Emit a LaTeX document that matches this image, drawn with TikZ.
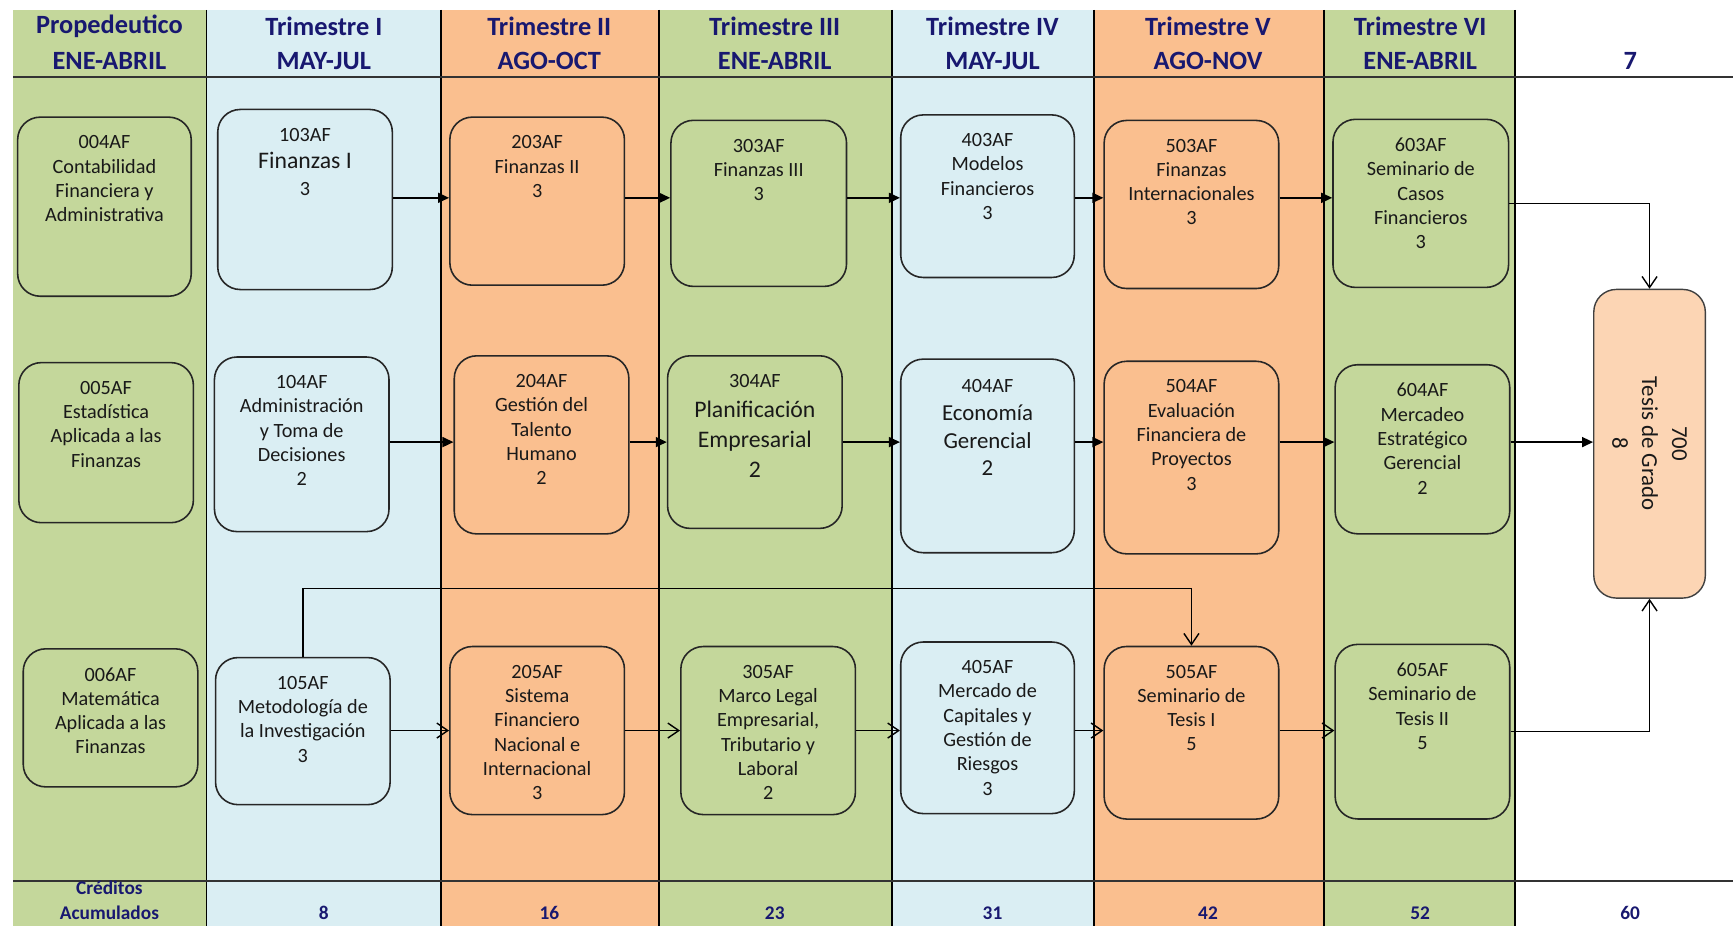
\documentclass[tikz,border=0pt]{standalone}
\usepackage{fontspec}
\setmainfont{Carlito}
\usetikzlibrary{arrows.meta}
\definecolor{verdeC}{RGB}{196,215,155}
\definecolor{azulC}{RGB}{218,238,243}
\definecolor{naranjaC}{RGB}{250,191,143}
\definecolor{durazno}{RGB}{252,213,180}
\definecolor{azulosc}{RGB}{24,24,112}
\newcommand{\codigo}[1]{{\fontsize{11.5}{13.8}\selectfont #1}}
\begin{document}
\begin{tikzpicture}[x=0.0221cm, y=-0.0221cm,
    curso/.style={draw=black!85, line width=0.9pt, rounded corners=0.45cm, minimum width=3.49cm, inner sep=0pt},
    txt/.style={anchor=north, align=center, inner sep=0pt, text=black!90, font=\fontsize{11.5}{13.8}\selectfont},
    grande/.style={font=\fontsize{13.5}{17}\selectfont},
    encab/.style={text=azulosc, font=\bfseries\fontsize{15}{19}\selectfont},
    cred/.style={text=azulosc, font=\bfseries\fontsize{11}{14}\selectfont},
    lleno/.style={-{Triangle[length=0.22cm,width=0.2cm]}, line width=0.9pt},
    abierto/.style={-{Straight Barb[length=0.22cm,width=0.3cm]}, line width=0.8pt}]
    \useasboundingbox (0,0) rectangle (1568,838);
    \fill[verdeC] (12,9) rectangle (187,838);
    \fill[azulC] (187,9) rectangle (399,838);
    \fill[naranjaC] (399,9) rectangle (596,838);
    \fill[verdeC] (596,9) rectangle (807,838);
    \fill[azulC] (807,9) rectangle (990,838);
    \fill[naranjaC] (990,9) rectangle (1198,838);
    \fill[verdeC] (1198,9) rectangle (1371,838);
    \foreach \x in {187,399,596,807,990,1198,1371}
        \draw[line width=0.9pt] (\x,9) -- (\x,838);
    \draw[line width=1.2pt, black!80] (12,70) -- (1568,70);
    \draw[line width=1.2pt, black!80] (12,797) -- (1568,797);
    \foreach \x/\a/\b [count=\i] in {99/Propedeutico/ENE-ABRIL, 293/Trimestre I/MAY-JUL, 497/Trimestre II/AGO-OCT, 701/Trimestre III/ENE-ABRIL, 898/Trimestre IV/MAY-JUL, 1093/Trimestre V/AGO-NOV, 1285/Trimestre VI/ENE-ABRIL} {
        \node[encab] (ta\i) at (\x,24) {\a};
        \node[encab] (tb\i) at (\x,55) {\b};
    }
    \node[encab] (tb8) at (1475,55) {7};
    \node[cred] (cr1) at (99,803) {Créditos};
    \node[cred] (cr2) at (99,826) {Acumulados};
    \foreach \x/\n [count=\i] in {293/8, 497/16, 701/23, 898/31, 1093/42, 1285/52, 1475/60}
        \node[cred] (ac\i) at (\x,826) {\n};

    \node[curso, fill=verdeC, minimum width=3.47cm, minimum height=3.58cm] (c004) at (94.5,187) {};
    \node[curso, fill=verdeC, minimum height=3.2cm] (c005) at (96,400.5) {};
    \node[curso, fill=verdeC, minimum height=2.76cm] (c006) at (100,649.5) {};
    \node[curso, fill=azulC, minimum height=3.6cm] (c103) at (276,180.5) {};
    \node[curso, fill=azulC, minimum height=3.49cm] (c104) at (273,402) {};
    \node[curso, fill=azulC, minimum height=2.94cm] (c105) at (274,661.5) {};
    \node[curso, fill=naranjaC, minimum height=3.36cm] (c203) at (486,182) {};
    \node[curso, fill=naranjaC, minimum height=3.56cm] (c204) at (490,402.5) {};
    \node[curso, fill=naranjaC, minimum height=3.36cm] (c205) at (486,661) {};
    \node[curso, fill=verdeC, minimum width=3.51cm, minimum height=3.32cm] (c303) at (686.5,184) {};
    \node[curso, fill=verdeC, minimum height=3.45cm] (c304) at (683,400) {};
    \node[curso, fill=verdeC, minimum height=3.36cm] (c305) at (695,661) {};
    \node[curso, fill=azulC, minimum width=3.47cm, minimum height=3.25cm] (c403) at (893.5,177.5) {};
    \node[curso, fill=azulC, minimum width=3.47cm, minimum height=3.87cm] (c404) at (893.5,412.5) {};
    \node[curso, fill=azulC, minimum width=3.47cm, minimum height=3.43cm] (c405) at (893.5,658.5) {};
    \node[curso, fill=naranjaC, minimum height=3.36cm] (c503) at (1078,185) {};
    \node[curso, fill=naranjaC, minimum height=3.85cm] (c504) at (1078,414) {};
    \node[curso, fill=naranjaC, minimum height=3.45cm] (c505) at (1078,663) {};
    \node[curso, fill=verdeC, minimum width=3.51cm, minimum height=3.36cm] (c603) at (1285.5,184) {};
    \node[curso, fill=verdeC, minimum height=3.38cm] (c604) at (1287,406.5) {};
    \node[curso, fill=verdeC, minimum height=3.49cm] (c605) at (1287,662) {};
    \node[curso, fill=durazno, draw=black!75, line width=0.8pt, minimum width=2.23cm, minimum height=6.17cm] (c700) at (1492.5,401.5) {};

    \node[txt] (t004) at ([yshift=-0.38cm]c004.north) {004AF\\Contabilidad\\Financiera y\\Administrativa};
    \node[txt] (t005) at ([yshift=-0.38cm]c005.north) {005AF\\Estadística\\Aplicada a las\\Finanzas};
    \node[txt] (t006) at ([yshift=-0.38cm]c006.north) {006AF\\Matemática\\Aplicada a las\\Finanzas};
    \node[txt, font=\fontsize{13.5}{15.5}\selectfont] (t103) at ([yshift=-0.38cm]c103.north) {\codigo{103AF}\\Finanzas I\\\codigo{3}};
    \node[txt] (t104) at ([yshift=-0.38cm]c104.north) {104AF\\Administración\\y Toma de\\Decisiones\\2};
    \node[txt] (t105) at ([yshift=-0.38cm]c105.north) {105AF\\Metodología de\\la Investigación\\3};
    \node[txt] (t203) at ([yshift=-0.38cm]c203.north) {203AF\\Finanzas II\\3};
    \node[txt] (t204) at ([yshift=-0.38cm]c204.north) {204AF\\Gestión del\\Talento\\Humano\\2};
    \node[txt] (t205) at ([yshift=-0.38cm]c205.north) {205AF\\Sistema\\Financiero\\Nacional e\\Internacional\\3};
    \node[txt] (t303) at ([yshift=-0.38cm]c303.north) {303AF\\Finanzas III\\3};
    \node[txt, grande] (t304) at ([yshift=-0.38cm]c304.north) {\codigo{304AF}\\Planificación\\Empresarial\\2};
    \node[txt] (t305) at ([yshift=-0.38cm]c305.north) {305AF\\Marco Legal\\Empresarial,\\Tributario y\\Laboral\\2};
    \node[txt] (t403) at ([yshift=-0.38cm]c403.north) {403AF\\Modelos\\Financieros\\3};
    \node[txt, font=\fontsize{13}{15.7}\selectfont] (t404) at ([yshift=-0.42cm]c404.north) {\codigo{404AF}\\Economía\\Gerencial\\2};
    \node[txt] (t405) at ([yshift=-0.38cm]c405.north) {405AF\\Mercado de\\Capitales y\\Gestión de\\Riesgos\\3};
    \node[txt] (t503) at ([yshift=-0.38cm]c503.north) {503AF\\Finanzas\\Internacionales\\3};
    \node[txt] (t504) at ([yshift=-0.38cm]c504.north) {504AF\\Evaluación\\Financiera de\\Proyectos\\3};
    \node[txt] (t505) at ([yshift=-0.38cm]c505.north) {505AF\\Seminario de\\Tesis I\\5};
    \node[txt] (t603) at ([yshift=-0.38cm]c603.north) {603AF\\Seminario de\\Casos\\Financieros\\3};
    \node[txt] (t604) at ([yshift=-0.38cm]c604.north) {604AF\\Mercadeo\\Estratégico\\Gerencial\\2};
    \node[txt] (t605) at ([yshift=-0.38cm]c605.north) {605AF\\Seminario de\\Tesis II\\5};
    \node[txt, anchor=center, rotate=-90, font=\fontsize{13}{17}\selectfont] (t700) at (c700.center) {700\\Tesis de Grado\\8};

    \coordinate (f1) at (0,179);
    \coordinate (f2) at (0,400);
    \coordinate (f3) at (0,661);
    \draw[lleno] (c103.east |- f1) -- (c203.west |- f1);
    \draw[lleno] (c203.east |- f1) -- (c303.west |- f1);
    \draw[lleno] (c303.east |- f1) -- (c403.west |- f1);
    \draw[lleno] (c403.east |- f1) -- (c503.west |- f1);
    \draw[lleno] (c503.east |- f1) -- (c603.west |- f1);
    \draw[lleno] (c104.east |- f2) -- (c204.west |- f2);
    \draw[lleno] (c204.east |- f2) -- (c304.west |- f2);
    \draw[lleno] (c304.east |- f2) -- (c404.west |- f2);
    \draw[lleno] (c404.east |- f2) -- (c504.west |- f2);
    \draw[lleno] (c504.east |- f2) -- (c604.west |- f2);
    \draw[lleno] (c604.east |- f2) -- (c700.west |- f2);
    \draw[abierto] (c105.east |- f3) -- (c205.west |- f3);
    \draw[abierto] (c205.east |- f3) -- (c305.west |- f3);
    \draw[abierto] (c305.east |- f3) -- (c405.west |- f3);
    \draw[abierto] (c405.east |- f3) -- (c505.west |- f3);
    \draw[abierto] (c505.east |- f3) -- (c605.west |- f3);
    \draw[abierto] (c603.east) -| (c700.north);
    \draw[abierto] (c605.east) -| (c700.south);
    \draw[abierto] (c105.north) -- ++(0,-62) -| (c505.north);
\end{tikzpicture}
\end{document}
